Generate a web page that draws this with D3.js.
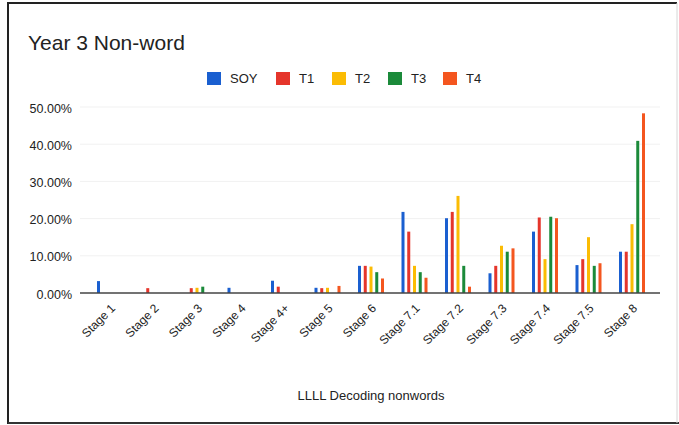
<!DOCTYPE html>
<html>
<head>
<meta charset="utf-8">
<script src="https://cdn.jsdelivr.net/npm/d3@7"></script>
<style>
  html, body { margin: 0; padding: 0; background: #fff; }
  svg { display: block; font-family: "Liberation Sans", Arial, sans-serif; }
</style>
</head>
<body>
<svg id="chart" width="679" height="425"></svg>
<script>
// Stage categories along the x axis
const categories = ["Stage 1", "Stage 2", "Stage 3", "Stage 4", "Stage 4+", "Stage 5", "Stage 6",
  "Stage 7.1", "Stage 7.2", "Stage 7.3", "Stage 7.4", "Stage 7.5", "Stage 8"];

// Series names and their percentages per stage
const seriesNames = ["SOY", "T1", "T2", "T3", "T4"];
const soy = [3.2, 0, 0, 1.4, 3.3, 1.4, 7.3, 21.8, 20.1, 5.3, 16.5, 7.5, 11.1];
const t1  = [0, 1.3, 1.3, 0, 1.7, 1.3, 7.3, 16.5, 21.8, 7.3, 20.3, 9.1, 11.1];
const t2  = [0, 0, 1.4, 0, 0, 1.4, 7.1, 7.3, 26.1, 12.7, 9.1, 15.0, 18.5];
const t3  = [0, 0, 1.7, 0, 0, 0, 5.6, 5.6, 7.3, 11.1, 20.5, 7.3, 40.9];
const t4  = [0, 0, 0, 0, 0, 1.9, 3.9, 4.1, 1.7, 12.0, 20.1, 8.0, 48.3];
const seriesValues = [soy, t1, t2, t3, t4];
const seriesColors = ["#1a5fd0", "#e5352b", "#fbbc04", "#1b8a3a", "#f4561f"];

// Y axis ticks
const yTicks = [0, 10, 20, 30, 40, 50];

const svg = d3.select("#chart");

// Frame around the chart
svg.append("line").attr("x1", 8).attr("x2", 677).attr("y1", 3).attr("y2", 3)
  .attr("stroke", "#222").attr("stroke-width", 2);
svg.append("line").attr("x1", 8).attr("x2", 8).attr("y1", 2).attr("y2", 424)
  .attr("stroke", "#222").attr("stroke-width", 2);
svg.append("line").attr("x1", 8).attr("x2", 679).attr("y1", 423).attr("y2", 423)
  .attr("stroke", "#333").attr("stroke-width", 2);
svg.append("line").attr("x1", 677).attr("x2", 677).attr("y1", 3).attr("y2", 423)
  .attr("stroke", "#d6d6d6").attr("stroke-width", 1);

// Title
svg.append("text").attr("x", 28).attr("y", 50)
  .attr("font-size", 21).attr("fill", "#222").text("Year 3 Non-word");

// Scales
const x = d3.scaleBand().domain(categories).range([88.25, 653.75]).padding(0);
const inner = d3.scalePoint().domain(seriesNames).range([-11.5, 11.5]);
const y = d3.scaleLinear().domain([0, 50]).range([293, 107]);

// Gridlines
svg.append("g").selectAll("line").data(yTicks.filter(d => d > 0)).join("line")
  .attr("x1", 80).attr("x2", 660)
  .attr("y1", d => y(d)).attr("y2", d => y(d))
  .attr("stroke", "#f1f1f1").attr("stroke-width", 1);

// Y axis labels
const yAxis = d3.axisLeft(y).tickValues(yTicks).tickSize(0).tickPadding(0)
  .tickFormat(d => d.toFixed(2) + "%");
const yg = svg.append("g").attr("transform", "translate(72,1)").call(yAxis);
yg.select(".domain").remove();
yg.selectAll("text").attr("font-size", 12.5).attr("fill", "#222")
  .attr("font-family", "Liberation Sans, Arial, sans-serif");

// Bars
const barW = 3;
const groups = svg.append("g").selectAll("g").data(seriesNames).join("g")
  .attr("fill", (d, i) => seriesColors[i]);
groups.selectAll("rect")
  .data((s, si) => seriesValues[si].map((v, ci) => ({ s, v, c: categories[ci] })))
  .join("rect")
  .attr("x", d => x(d.c) + x.bandwidth() / 2 + inner(d.s) - barW / 2)
  .attr("y", d => y(d.v))
  .attr("width", barW)
  .attr("height", d => y(0) - y(d.v));

// Baseline
svg.append("line").attr("x1", 80).attr("x2", 660).attr("y1", y(0)).attr("y2", y(0))
  .attr("stroke", "#444").attr("stroke-width", 1.5);

// X axis labels, rotated
const xAxis = d3.axisBottom(x).tickSize(0).tickPadding(0);
const xg = svg.append("g").attr("transform", "translate(0,293)").call(xAxis);
xg.select(".domain").remove();
xg.selectAll("text")
  .attr("font-size", 12).attr("fill", "#222")
  .attr("font-family", "Liberation Sans, Arial, sans-serif")
  .attr("text-anchor", "end")
  .attr("dy", null).attr("y", null)
  .attr("transform", "translate(6,16) rotate(-45)");

// X axis title
svg.append("text").attr("x", 371).attr("y", 400).attr("text-anchor", "middle")
  .attr("font-size", 13).attr("fill", "#222").text("LLLL Decoding nonwords");

// Legend
const legendX = [207, 276, 332, 388, 443];
const legend = svg.append("g").selectAll("g").data(seriesNames).join("g")
  .attr("transform", (d, i) => `translate(${legendX[i]},72)`);
legend.append("rect").attr("width", 14).attr("height", 13)
  .attr("fill", (d, i) => seriesColors[i]);
legend.append("text").attr("x", 23).attr("y", 11)
  .attr("font-size", 13).attr("fill", "#222").text(d => d);
</script>
</body>
</html>
